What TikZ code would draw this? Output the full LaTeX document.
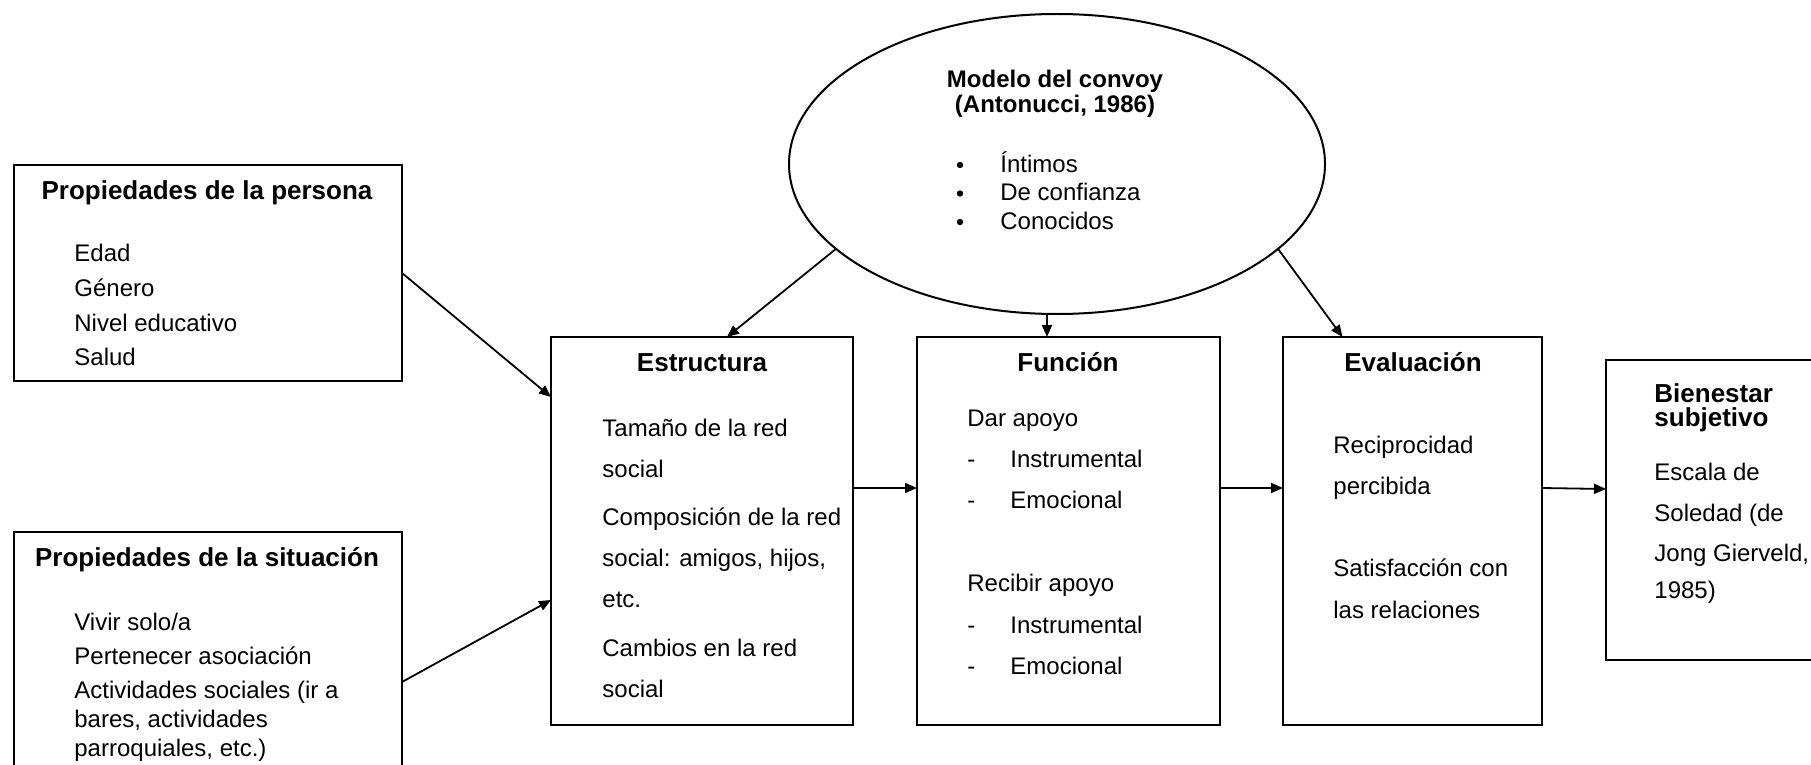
\documentclass[tikz,border=0pt]{standalone}
\usepackage{fontspec}
\setmainfont{Liberation Sans}
\usetikzlibrary{arrows.meta,shapes.geometric}

\begin{document}
\begin{tikzpicture}[x=0.5pt,y=-0.5pt,
  frame/.style={draw,line width=1pt,inner sep=0pt,outer sep=0pt,anchor=north west},
  link/.style={line width=0.9pt,-{Triangle[length=6pt,width=5pt]}},
  ttl/.style={anchor=base,inner sep=0pt,font=\fontsize{13}{15}\selectfont\bfseries},
  ttlw/.style={anchor=base west,inner sep=0pt,font=\fontsize{13}{15}\selectfont\bfseries},
  ttls/.style={anchor=base,inner sep=0pt,font=\fontsize{12}{14}\selectfont\bfseries},
  body/.style={anchor=base west,inner sep=0pt,font=\fontsize{12}{14}\selectfont},
  bullet/.style={circle,fill,inner sep=0pt,minimum size=3.2pt}]

\useasboundingbox (0,0) rectangle (1811,765);
\clip (0,0) rectangle (1811,765);
\fill[white] (0,0) rectangle (1811,765);

% boxes
\node[frame,minimum width=194pt,minimum height=108pt] (per) at (14,165) {};
\node[frame,minimum width=194pt,minimum height=130pt] (sit) at (14,532) {};
\node[frame,minimum width=151pt,minimum height=194pt] (est) at (551,337) {};
\node[frame,minimum width=151.5pt,minimum height=194pt] (fun) at (917,337) {};
\node[frame,minimum width=129.5pt,minimum height=194pt] (eva) at (1283,337) {};
\node[frame,minimum width=117pt,minimum height=150pt] (bie) at (1606,360) {};
\node[ellipse,draw,line width=1pt,inner sep=0pt,outer sep=0pt,
      minimum width=268pt,minimum height=150pt] (conv) at (1057,164) {};

% convoy model
\node[ttls] (conv-t1) at (1055,88) {Modelo del convoy};
\node[ttls] (conv-t2) at (1055,113) {(Antonucci, 1986)};
\node[bullet] (conv-b1) at (960,165) {};
\node[bullet] (conv-b2) at (960,193.5) {};
\node[bullet] (conv-b3) at (960,222) {};
\node[body] (conv-1) at (1000,172) {Íntimos};
\node[body] (conv-2) at (1000,200.5) {De confianza};
\node[body] (conv-3) at (1000,229) {Conocidos};

% person
\node[ttl] (per-t) at (207,199) {Propiedades de la persona};
\node[body] (per-1) at (74,261) {Edad};
\node[body] (per-2) at (74,296) {Género};
\node[body] (per-3) at (74,331) {Nivel educativo};
\node[body] (per-4) at (74,365) {Salud};

% situation
\node[ttl] (sit-t) at (207,566) {Propiedades de la situación};
\node[body] (sit-1) at (74,630) {Vivir solo/a};
\node[body] (sit-2) at (74,664) {Pertenecer asociación};
\node[body] (sit-3) at (74,698) {Actividades sociales (ir a};
\node[body] (sit-4) at (74,727) {bares, actividades};
\node[body] (sit-5) at (74,756) {parroquiales, etc.)};

% structure
\node[ttl] (est-t) at (702,371) {Estructura};
\node[body] (est-1) at (602,436) {Tamaño de la red};
\node[body] (est-2) at (602,477) {social};
\node[body] (est-3) at (602,525) {Composición de la red};
\node[body] (est-4) at (602,566) {social: amigos, hijos,};
\node[body] (est-5) at (602,607) {etc.};
\node[body] (est-6) at (602,656) {Cambios en la red};
\node[body] (est-7) at (602,697) {social};

% function
\node[ttl] (fun-t) at (1068,371) {Función};
\node[body] (fun-1) at (967,426) {Dar apoyo};
\node[body] (fun-2d) at (967,467) {-};
\node[body] (fun-2) at (1010,467) {Instrumental};
\node[body] (fun-3d) at (967,508) {-};
\node[body] (fun-3) at (1010,508) {Emocional};
\node[body] (fun-4) at (967,591) {Recibir apoyo};
\node[body] (fun-5d) at (967,633) {-};
\node[body] (fun-5) at (1010,633) {Instrumental};
\node[body] (fun-6d) at (967,674) {-};
\node[body] (fun-6) at (1010,674) {Emocional};

% evaluation
\node[ttl] (eva-t) at (1413,371) {Evaluación};
\node[body] (eva-1) at (1333,453) {Reciprocidad};
\node[body] (eva-2) at (1333,494) {percibida};
\node[body] (eva-3) at (1333,576) {Satisfacción con};
\node[body] (eva-4) at (1333,618) {las relaciones};

% well-being
\node[ttlw] (bie-t1) at (1654,402) {Bienestar};
\node[ttlw] (bie-t2) at (1654,426) {subjetivo};
\node[body] (bie-1) at (1654,480) {Escala de};
\node[body] (bie-2) at (1654,521) {Soledad (de};
\node[body] (bie-3) at (1654,561) {Jong Gierveld,};
\node[body] (bie-4) at (1654,598) {1985)};

% connectors
\draw[link] (per.east) -- ([yshift=-30pt]est.north west);
\draw[link] ([yshift=-75pt]sit.north east) -- ([yshift=-131.5pt]est.north west);
\draw[link] ([yshift=-75.5pt]est.north east) -- ([yshift=-75.5pt]fun.north west);
\draw[link] ([yshift=-75.5pt]fun.north east) -- ([yshift=-75.5pt]eva.north west);
\draw[link] ([yshift=-75.5pt]eva.north east) -- ([yshift=-64.5pt]bie.north west);
\draw[link] (conv.201) -- ([xshift=12.5pt]est.north);
\draw[link] ([xshift=-5pt]conv.south) -- ([xshift=-10.75pt]fun.north);
\draw[link] (conv.339) -- ([xshift=-35pt]eva.north);
\end{tikzpicture}
\end{document}
